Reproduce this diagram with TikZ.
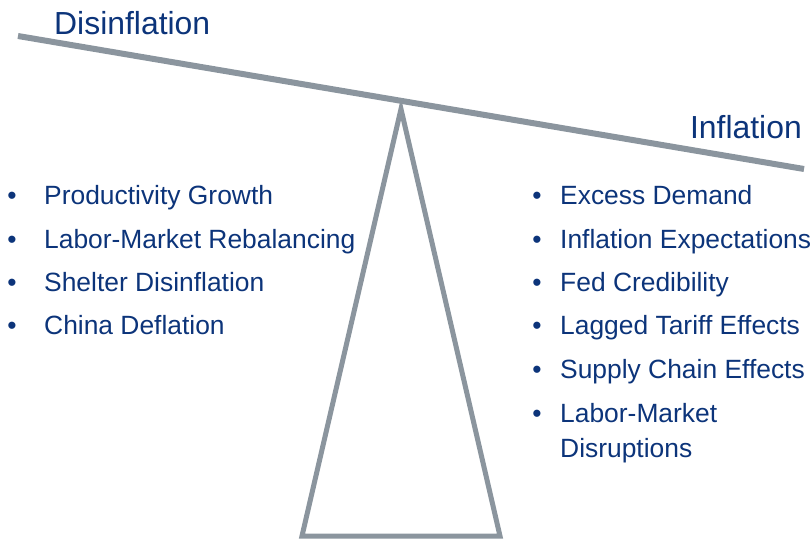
\documentclass[tikz,border=0pt]{standalone}
\usepackage{fontspec}
\setmainfont{Liberation Sans}
\usetikzlibrary{positioning}

\definecolor{fedblue}{RGB}{12,52,122}
\definecolor{beamgray}{RGB}{139,149,158}

\begin{document}
\begin{tikzpicture}[x=1pt,y=-1pt,
  title/.style={text=fedblue,font=\fontsize{31.9}{36}\selectfont,inner sep=0pt},
  item/.style={anchor=base west,align=left,text=fedblue,font=\fontsize{26.4}{35}\selectfont,inner sep=0pt},
  bul/.style={anchor=base,text=fedblue,font=\fontsize{26.4}{35}\selectfont,inner sep=0pt},
  frame/.style={beamgray,line width=5pt,line join=miter}]
\useasboundingbox (0,0) rectangle (811,540);

% fulcrum and beam
\coordinate (apex) at (401,109);
\coordinate (footL) at (302,536);
\coordinate (footR) at (500,536);
\draw[frame] (apex) -- (footR) -- (footL) -- cycle;
\coordinate (beamL) at (18,36);
\coordinate (beamR) at (804,169);
\draw[frame,line width=6pt] (beamL) -- (beamR);

\node[title,anchor=base west] (dis) at (54,35) {Disinflation};
\node[title,anchor=base east] (inf) at (802,139) {Inflation};

% left list
\foreach \t [count=\i] in {Productivity Growth, Labor-Market Rebalancing, Shelter Disinflation, China Deflation}{
  \node[bul] (disb\i) at (12,{205+43*(\i-1)}) {•};
  \node[item] (dis\i) at (44,{205+43*(\i-1)}) {\t};
}

% right list
\foreach \t [count=\i] in {Excess Demand, Inflation Expectations, Fed Credibility, Lagged Tariff Effects, Supply Chain Effects}{
  \node[bul] (infb\i) at (537,{205+43.3*(\i-1)}) {•};
  \node[item] (inf\i) at (560,{205+43.3*(\i-1)}) {\t};
}
\node[bul] (infb6) at (537,422) {•};
\node[item] (inf6) at (560,457) {Labor-Market\\Disruptions};
\end{tikzpicture}
\end{document}
